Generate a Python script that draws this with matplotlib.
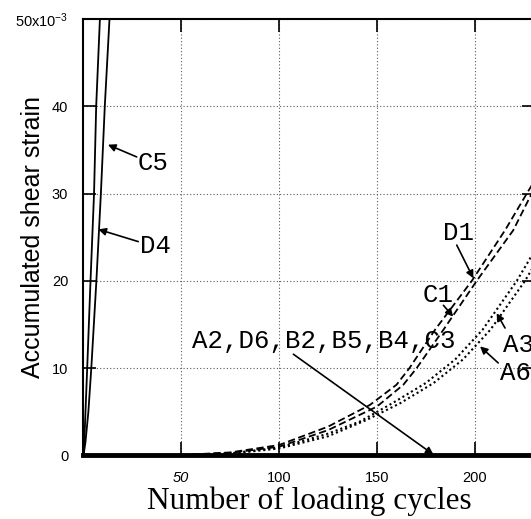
import numpy as np
from matplotlib import pyplot as plt

plt.rcParams['mathtext.default'] = 'regular'

# fast curves near the strain axis
c5_cycles = [0, 1, 2.5, 4.0, 6.6, 8.9, 10.9, 13.3, 14]
c5_strain = [0, 1.5, 5, 10, 20, 30, 40, 50, 52]
d4_cycles = [0, 0.5, 1.9, 3.6, 5.4, 6.5, 8.4, 9]
d4_strain = [0, 2, 10, 20, 30, 40, 50, 53]

# dashed curves
d1_cycles = [0, 50, 75, 100, 125, 146.5, 160, 166.6, 179.7, 198.5, 215.5, 226.6, 232]
d1_strain = [0, 0.05, 0.35, 1.2, 3.3, 5.8, 8.1, 10, 14.4, 20, 25.8, 30, 32]
c1_cycles = [0, 50, 75, 100, 125, 150, 163.5, 170.3, 184, 201, 219.7, 229.1, 232]
c1_strain = [0, 0.04, 0.3, 1.0, 2.9, 5.6, 8.1, 10, 14.4, 20, 25.8, 30, 31.2]

# dotted curves
a3_cycles = [0, 50, 75, 100, 125, 141.4, 158, 175, 190, 204, 221.5, 227.3, 232]
a3_strain = [0, 0.03, 0.25, 0.9, 2.5, 3.9, 6.0, 8.3, 11.0, 14.4, 20, 22.2, 24.0]
a6_cycles = [0, 50, 75, 100, 125, 145, 162, 179, 194, 208, 225.7, 232]
a6_strain = [0, 0.02, 0.2, 0.8, 2.2, 4.1, 6.0, 8.3, 11.0, 14.4, 20, 22.4]

# A2, D6, B2, B5, B4, C3 stay at zero
zero_cycles = [0, 232]
zero_strain = [0, 0]

x_ticks = [50, 100, 150, 200]
y_ticks = [0, 10, 20, 30, 40, 50]
y_tick_labels = ['0', '10', '20', '30', '40', '50x10$^{-3}$']

fig = plt.figure(figsize=(5.31, 5.19), dpi=100)
ax = fig.add_axes([0.1572, 0.1224, 0.8503, 0.841])

ax.set_xlim(0, 230.8)
ax.set_ylim(0, 50)

ax.grid(True, color='0.35', linestyle=(0, (1, 2)), linewidth=0.8)

solid = dict(color='k', linewidth=1.3)
ax.plot(c5_cycles, c5_strain, **solid)
ax.plot(d4_cycles, d4_strain, **solid)
ax.plot(d1_cycles, d1_strain, color='k', linewidth=1.3, dashes=(4, 2))
ax.plot(c1_cycles, c1_strain, color='k', linewidth=1.3, dashes=(4, 2))
ax.plot(a3_cycles, a3_strain, color='k', linewidth=1.5, dashes=(1, 1.4))
ax.plot(a6_cycles, a6_strain, color='k', linewidth=1.5, dashes=(1, 1.4))
ax.plot(zero_cycles, zero_strain, color='k', linewidth=3.5, clip_on=False)

ax.set_xticks(x_ticks)
ax.set_yticks(y_ticks)
ax.set_yticklabels(y_tick_labels)
ax.tick_params(direction='in', length=9.5, width=1.2, top=True, right=True,
               labelsize=10.5)
ax.tick_params(axis='y', pad=11)
ax.tick_params(axis='x', pad=11)
for lab in ax.get_xticklabels() + ax.get_yticklabels():
    lab.set_family('Liberation Sans')
ax.get_xticklabels()[0].set_style('italic')

for s in ax.spines.values():
    s.set_linewidth(1.5)

ax.set_xlabel('Number of loading cycles', family='Liberation Serif',
              fontsize=22.5, labelpad=1.5)
ax.set_ylabel('Accumulated shear strain', family='Liberation Sans',
              fontsize=18)
ax.yaxis.set_label_coords(-0.086, 0.5)

# curve labels
mono = dict(family='Liberation Mono', fontsize=18.5, va='baseline', ha='left')
arrow = dict(arrowstyle='-|>', color='k', lw=1.2, mutation_scale=11,
             shrinkA=0, shrinkB=0)

ax.text(27.9, 32.7, 'C5', **mono)
ax.annotate('', xy=(12.5, 35.6), xytext=(27.2, 34.2), arrowprops=arrow)
ax.text(28.9, 23.2, 'D4', **mono)
ax.annotate('', xy=(7.6, 25.9), xytext=(28.0, 24.5), arrowprops=arrow)
ax.text(183.8, 24.7, 'D1', **mono)
ax.annotate('', xy=(199.3, 20.3), xytext=(190.8, 24.1), arrowprops=arrow)
ax.text(173.5, 17.6, 'C1', **mono)
ax.annotate('', xy=(189, 15.9), xytext=(184, 17.2), arrowprops=arrow)
ax.text(214.5, 11.9, 'A3', clip_on=False, **mono)
ax.annotate('', xy=(211.2, 16.3), xytext=(215.5, 14.6), arrowprops=arrow)
ax.text(213, 8.6, 'A6', clip_on=False, **mono)
ax.annotate('', xy=(202.7, 12.5), xytext=(212, 10.6), arrowprops=arrow)
ax.text(55.3, 12.3, 'A2,D6,B2,B5,B4,C3', **mono)
ax.annotate('', xy=(178.9, 0.1), xytext=(107.3, 11.6), arrowprops=arrow)

fig.savefig('out.png', dpi=100)
